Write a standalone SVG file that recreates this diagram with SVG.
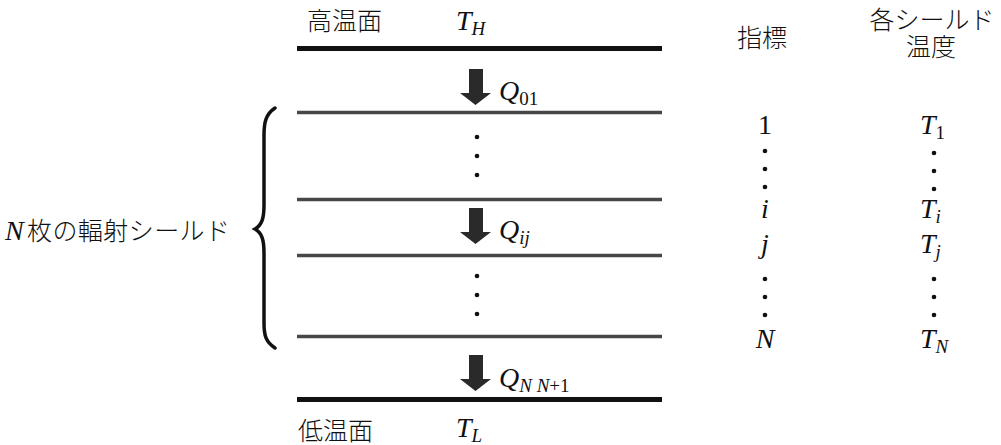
<svg xmlns="http://www.w3.org/2000/svg" width="1001" height="445" viewBox="0 0 1001 445">
<style>
.cjk{font-weight:300;font-size:25px;fill:#111}
.m{font-style:italic;font-size:28px;fill:#111}
.r{font-size:28px;fill:#111}
.s{font-size:19px}
.su{font-style:normal;font-size:19px}
.thick{stroke:#111;stroke-width:5}
.shield{stroke:#474747;stroke-width:3.5}
.dot{fill:#111}
.arrow{fill:#2a2a2a}
</style>
<defs>
<path id="arr" class="arrow" d="M469,0 h14 v24 h8 l-15.5,12 l-15.5,-12 h9 z"/>
</defs>
<rect width="1001" height="445" fill="#fff"/>

<g font-family="'Liberation Serif', 'Times New Roman', serif">
<g id="hot-surface">
<line class="thick" x1="297" y1="48.5" x2="662" y2="48.5"/>
<text class="cjk" font-family="'Noto Sans CJK JP', sans-serif" x="307" y="30">高温面</text>
<text class="m" x="456" y="30">T<tspan class="s" dy="5">H</tspan></text>
</g>

<g id="shield-1"><line class="shield" x1="297" y1="112.5" x2="662" y2="112.5"/></g>
<g id="shield-i"><line class="shield" x1="297" y1="199.5" x2="662" y2="199.5"/></g>
<g id="shield-j"><line class="shield" x1="297" y1="255.5" x2="662" y2="255.5"/></g>
<g id="shield-N"><line class="shield" x1="297" y1="336.5" x2="662" y2="336.5"/></g>

<g id="cold-surface">
<line class="thick" x1="297" y1="399.5" x2="662" y2="399.5"/>
<text class="cjk" font-family="'Noto Sans CJK JP', sans-serif" x="298" y="440">低温面</text>
<text class="m" x="456" y="437">T<tspan class="s" dy="5">L</tspan></text>
</g>

<g id="connectors">
<use href="#arr" y="69"/>
<use href="#arr" y="208"/>
<use href="#arr" y="355"/>
<text class="m" x="499" y="100">Q<tspan class="su" dy="5">01</tspan></text>
<text class="m" x="499" y="239">Q<tspan class="s" dy="5">ij</tspan></text>
<text class="m" x="499" y="387">Q<tspan class="s" dy="5">N N</tspan><tspan class="su">+1</tspan></text>
</g>

<g id="middle-dots">
<circle class="dot" cx="477" cy="137" r="2.3"/>
<circle class="dot" cx="477" cy="156" r="2.3"/>
<circle class="dot" cx="477" cy="175" r="2.3"/>
<circle class="dot" cx="477" cy="276" r="2.3"/>
<circle class="dot" cx="477" cy="295" r="2.3"/>
<circle class="dot" cx="477" cy="314" r="2.3"/>
</g>

<g id="brace-label">
<path d="M275,108 C266,114 264,122 264,135 L264,205 C264,218 262,225 255,229 C262,233 264,240 264,253 L264,323 C264,336 266,342 275,348" fill="none" stroke="#111" stroke-width="3.5" stroke-linecap="round"/>
<text class="m" x="5" y="240">N</text>
<text class="cjk" font-family="'Noto Sans CJK JP', sans-serif" x="27" y="240" textLength="203" lengthAdjust="spacing">枚の輻射シールド</text>
</g>

<g id="index-column" text-anchor="middle">
<text class="cjk" font-family="'Noto Sans CJK JP', sans-serif" x="762" y="47">指標</text>
<text class="r" x="765" y="134">1</text>
<circle class="dot" cx="765" cy="151" r="2.3"/>
<circle class="dot" cx="765" cy="169" r="2.3"/>
<circle class="dot" cx="765" cy="187" r="2.3"/>
<text class="m" x="765" y="218">i</text>
<text class="m" x="765" y="253">j</text>
<circle class="dot" cx="765" cy="279" r="2.3"/>
<circle class="dot" cx="765" cy="297" r="2.3"/>
<circle class="dot" cx="765" cy="315" r="2.3"/>
<text class="m" x="765" y="348">N</text>
</g>

<g id="temperature-column">
<text class="cjk" font-family="'Noto Sans CJK JP', sans-serif" x="932" y="29" text-anchor="middle">各シールド</text>
<text class="cjk" font-family="'Noto Sans CJK JP', sans-serif" x="931" y="56" text-anchor="middle">温度</text>
<text class="m" x="920" y="134">T<tspan class="su" dy="5">1</tspan></text>
<circle class="dot" cx="934" cy="153" r="2.3"/>
<circle class="dot" cx="934" cy="171" r="2.3"/>
<circle class="dot" cx="934" cy="189" r="2.3"/>
<text class="m" x="920" y="218">T<tspan class="s" dy="5">i</tspan></text>
<text class="m" x="920" y="253">T<tspan class="s" dy="5">j</tspan></text>
<circle class="dot" cx="934" cy="279" r="2.3"/>
<circle class="dot" cx="934" cy="297" r="2.3"/>
<circle class="dot" cx="934" cy="315" r="2.3"/>
<text class="m" x="920" y="348">T<tspan class="s" dy="5">N</tspan></text>
</g>
</g>
</svg>
